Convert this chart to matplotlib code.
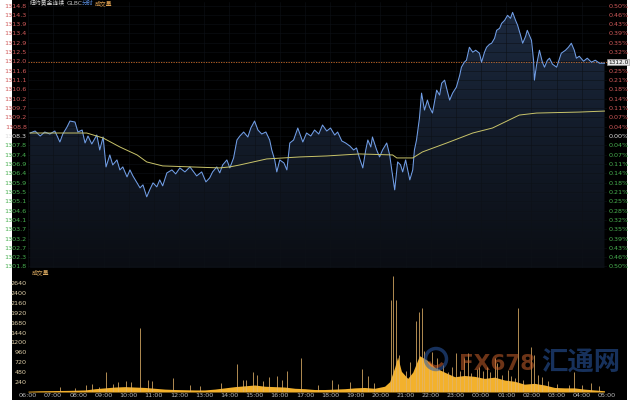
import numpy as np
import matplotlib
matplotlib.use("Agg")
import matplotlib.pyplot as plt
from matplotlib.colors import LinearSegmentedColormap
from matplotlib.patches import Rectangle, Circle, Wedge

CJK = ["Noto Sans CJK SC", "DejaVu Sans"]

# ---- data ----
hour_labels = ["06:00", "07:00", "08:00", "09:00", "10:00", "11:00", "12:00", "13:00",
               "14:00", "15:00", "16:00", "17:00", "18:00", "19:00", "20:00", "21:00",
               "22:00", "23:00", "00:00", "01:00", "02:00", "03:00", "04:00", "05:00"]

price_times = ["06:05", "06:17", "06:29", "06:40", "06:52", "07:04", "07:16", "07:23", "07:33", "07:40",
               "07:52", "07:59", "08:09", "08:16", "08:23", "08:32", "08:44", "08:51", "08:59", "09:06",
               "09:15", "09:22", "09:32", "09:39", "09:46", "09:56", "10:03", "10:10", "10:20", "10:27",
               "10:34", "10:43", "10:50", "10:58", "11:07", "11:14", "11:21", "11:31", "11:43", "11:52",
               "12:02", "12:14", "12:26", "12:33", "12:42", "12:54", "13:04", "13:13", "13:20", "13:30",
               "13:37", "13:44", "13:54", "14:01", "14:10", "14:18", "14:25", "14:34", "14:44", "14:51",
               "15:00", "15:08", "15:17", "15:27", "15:36", "15:41", "15:48", "15:53", "16:00", "16:10",
               "16:17", "16:24", "16:33", "16:43", "16:55", "17:04", "17:14", "17:23", "17:33", "17:42",
               "17:52", "18:01", "18:11", "18:18", "18:28", "18:37", "18:47", "18:56", "19:03", "19:10",
               "19:18", "19:25", "19:30", "19:37", "19:41", "19:51", "19:58", "20:05", "20:15", "20:22",
               "20:27", "20:34", "20:41", "20:48", "20:53", "21:00", "21:10", "21:17", "21:21", "21:26",
               "21:33", "21:38", "21:45", "21:52", "21:57", "22:04", "22:14", "22:21", "22:26", "22:33",
               "22:40", "22:45", "22:52", "23:01", "23:09", "23:13", "23:20", "23:25", "23:32", "23:40",
               "23:47", "23:56", "00:01", "00:08", "00:13", "00:20", "00:25", "00:32", "00:37", "00:44",
               "00:49", "00:56", "01:03", "01:10", "01:15", "01:22", "01:27", "01:34", "01:39", "01:46",
               "01:50", "01:55", "02:00", "02:05", "02:07", "02:12", "02:19", "02:26", "02:31", "02:38",
               "02:43", "02:50", "03:00", "03:07", "03:11", "03:21", "03:28", "03:35", "03:42", "03:47",
               "03:54", "04:04", "04:13", "04:23", "04:32", "04:42", "04:54"]
price_values = [1308.45, 1308.55, 1308.30, 1308.50, 1308.40, 1308.55, 1308.00, 1308.40, 1308.75, 1309.05,
                1309.00, 1308.50, 1308.60, 1307.95, 1308.30, 1307.90, 1308.35, 1307.60, 1308.25, 1306.75,
                1307.35, 1306.85, 1307.10, 1306.60, 1306.75, 1306.25, 1306.60, 1306.30, 1305.95, 1305.70,
                1305.85, 1305.25, 1305.60, 1305.95, 1305.75, 1306.10, 1305.80, 1306.45, 1306.60, 1306.40,
                1306.70, 1306.50, 1306.75, 1306.55, 1306.30, 1306.50, 1306.00, 1306.20, 1306.50, 1306.75,
                1306.45, 1306.85, 1307.10, 1306.70, 1307.20, 1308.10, 1308.30, 1308.50, 1308.25, 1308.70,
                1309.05, 1308.60, 1308.40, 1308.50, 1308.10, 1307.60, 1307.10, 1306.50, 1307.10, 1306.95,
                1306.60, 1307.95, 1308.10, 1308.70, 1308.00, 1308.45, 1308.30, 1308.60, 1308.40, 1308.85,
                1308.55, 1308.70, 1308.35, 1308.50, 1308.05, 1307.95, 1307.80, 1307.60, 1307.70, 1307.20,
                1306.70, 1307.60, 1308.10, 1307.75, 1308.25, 1307.60, 1307.25, 1307.60, 1307.95, 1307.35,
                1306.60, 1305.60, 1307.00, 1306.85, 1306.50, 1307.10, 1306.10, 1306.60, 1307.60, 1308.10,
                1309.20, 1310.45, 1309.60, 1310.10, 1309.75, 1309.45, 1310.60, 1310.35, 1310.95, 1311.10,
                1310.50, 1310.10, 1310.45, 1310.75, 1311.35, 1311.75, 1312.00, 1312.10, 1312.75, 1312.50,
                1312.60, 1312.45, 1312.00, 1312.50, 1312.75, 1312.90, 1312.95, 1313.20, 1313.60, 1313.70,
                1313.95, 1314.10, 1314.35, 1314.20, 1314.50, 1314.10, 1313.85, 1313.35, 1312.95, 1313.30,
                1313.60, 1313.35, 1313.10, 1312.10, 1311.10, 1311.85, 1312.60, 1312.00, 1311.75, 1312.10,
                1312.20, 1311.90, 1311.75, 1312.20, 1312.45, 1312.60, 1312.75, 1312.95, 1312.60, 1312.20,
                1312.30, 1312.05, 1312.20, 1312.00, 1312.10, 1311.95, 1311.95]

avg_times = ["06:05", "07:23", "08:20", "08:59", "09:39", "10:20", "10:43", "11:21", "13:37", "14:01",
             "14:25", "15:29", "16:48", "17:52", "19:10", "20:29", "20:39", "21:17", "21:40", "22:38",
             "23:40", "00:27", "01:31", "02:12", "03:54", "04:54"]
avg_values = [1308.45, 1308.45, 1308.45, 1308.20, 1307.75, 1307.35, 1307.00, 1306.80, 1306.70, 1306.75,
              1306.85, 1307.15, 1307.25, 1307.30, 1307.40, 1307.35, 1307.20, 1307.20, 1307.50, 1307.95,
              1308.45, 1308.70, 1309.35, 1309.45, 1309.50, 1309.55]

last_price = 1312.0
base_price = 1308.3

price_labels = ["1314.8", "1314.3", "1313.9", "1313.4", "1312.9", "1312.5", "1312.0", "1311.6",
                "1311.1", "1310.6", "1310.2", "1309.7", "1309.2", "1308.8", "1308.3", "1307.8",
                "1307.4", "1306.9", "1306.4", "1305.9", "1305.5", "1305.1", "1304.6", "1304.1",
                "1303.7", "1303.2", "1302.7", "1302.3", "1301.8"]
pct_labels = ["0.50%", "0.46%", "0.43%", "0.39%", "0.35%", "0.32%", "0.28%", "0.25%", "0.21%",
              "0.18%", "0.14%", "0.11%", "0.07%", "0.04%", "0.00%", "0.04%", "0.07%", "0.11%",
              "0.14%", "0.18%", "0.21%", "0.25%", "0.28%", "0.32%", "0.35%", "0.39%", "0.43%",
              "0.46%", "0.50%"]

vol_env_times = ["06:00", "06:29", "07:04", "07:40", "08:16", "08:40", "09:03", "09:27", "09:51", "10:15",
                 "10:39", "11:02", "11:26", "11:50", "12:14", "12:38", "13:01", "13:25", "13:49", "14:13",
                 "14:37", "15:00", "15:24", "15:48", "16:12", "16:36", "17:00", "17:23", "17:47", "18:11",
                 "18:35", "18:59", "19:22", "19:46", "20:10", "20:22", "20:34", "20:41", "20:50", "21:05",
                 "21:17", "21:33", "21:50", "22:09", "22:33", "22:57", "23:20", "23:44", "00:08", "00:32",
                 "00:56", "01:20", "01:43", "02:07", "02:31", "02:55", "03:19", "03:42", "04:06", "04:30",
                 "04:54"]
vol_env_values = [20, 30, 35, 40, 50, 80, 100, 120, 130, 120,
                  110, 90, 70, 60, 55, 50, 50, 70, 100, 130,
                  150, 170, 140, 130, 120, 90, 80, 60, 60, 70,
                  80, 100, 110, 90, 140, 250, 600, 850, 500, 330,
                  480, 880, 780, 600, 480, 370, 400, 380, 330, 360,
                  290, 260, 190, 210, 170, 110, 100, 100, 70, 50,
                  30]

spike_times = ["07:16", "07:52", "08:18", "08:32", "08:49", "09:06", "09:22", "09:34", "09:53", "10:05",
               "10:27", "10:46", "10:55", "11:45", "12:26", "14:18", "14:32", "14:56", "15:05", "15:34",
               "15:53", "16:17", "16:50", "18:04", "18:47", "19:15", "19:30", "20:24", "20:31", "20:36",
               "21:10", "21:24", "21:31", "21:38", "22:02", "22:14", "22:30", "23:01", "23:20", "23:28",
               "23:56", "00:13", "00:32", "00:39", "01:03", "01:29", "02:00", "02:07", "02:26", "03:42",
               "04:23",
               "20:45", "21:00", "21:45", "21:55", "22:20", "22:40", "22:50", "23:10", "23:35", "23:50",
               "00:05", "00:20", "00:50", "01:10", "01:20", "01:40", "02:15", "02:40", "03:00", "03:30",
               "04:00", "04:40", "12:50", "13:40", "14:40", "15:20", "16:05", "17:30", "18:20", "19:45"]
spike_values = [110, 90, 160, 200, 130, 485, 200, 250, 260, 240,
                1550, 290, 260, 340, 170, 680, 290, 485, 410, 365,
                390, 510, 825, 290, 240, 560, 390, 2230, 2810, 2230,
                730, 1720, 1930, 2040, 970, 825, 650, 945, 825, 945,
                605, 605, 825, 700, 530, 2040, 1090, 900, 360, 485,
                220,
                900, 500, 1000, 700, 560, 480, 600, 500, 450, 560,
                500, 480, 420, 380, 350, 300, 400, 260, 200, 180,
                160, 140, 150, 220, 300, 260, 280, 180, 200, 230]

vol_ticks = [240, 480, 720, 960, 1200, 1440, 1680, 1920, 2160, 2400, 2640]


def to_min(s):
    h, m = map(int, s.split(":"))
    return ((h - 6) % 24) * 60 + m


pt = np.array([to_min(s) for s in price_times])
pv = np.array(price_values)
at = np.array([to_min(s) for s in avg_times])
av = np.array(avg_values)
vt = np.array([to_min(s) for s in vol_env_times])
vv = np.array(vol_env_values)
st = np.array([to_min(s) for s in spike_times])
sv = np.array(spike_values)
hour_pos = np.arange(len(hour_labels)) * 60

# ---- figure ----
W, H = 640, 400
fig = plt.figure(figsize=(6.4, 4), dpi=100, facecolor="white")
fig.patches.append(Rectangle((12 / W, 0), (627 - 12) / W, 1, transform=fig.transFigure,
                             facecolor="black", edgecolor="none", zorder=-10))

x0, x1 = 28, 607
step = base_price * 0.005 / 14
tick_prices = base_price + step * np.arange(14, -15, -1)
px_per_unit = 9.32 / step
ymax = base_price + (136 - 2) / px_per_unit
ymin = base_price - (268 - 136) / px_per_unit

ax = fig.add_axes([x0 / W, 1 - 268 / H, (x1 - x0) / W, 266 / H])
ax.set_facecolor("black")
ax.set_xlim(0, 1380)
ax.set_ylim(ymin, ymax)
for s in ax.spines.values():
    s.set_visible(False)

# gradient fill under price
poly = ax.fill_between(pt, pv, ymin, color="none", lw=0)
cmap = LinearSegmentedColormap.from_list("fill", ["#0a0d13", "#1c2a40"])
grad = np.linspace(0, 1, 256).reshape(-1, 1)
im = ax.imshow(grad, extent=[0, 1380, ymin, ymax], origin="lower", cmap=cmap,
               aspect="auto", zorder=1, interpolation="bilinear")
im.set_clip_path(poly.get_paths()[0], transform=ax.transData)

ax.plot(pt, pv, color="#719ee6", lw=0.75, zorder=3)
ax.plot(at, av, color="#c9c46a", lw=0.7, zorder=3)
ax.axhline(last_price, color="#d0702c", lw=0.6, ls=(0, (1.5, 1.5)), zorder=2)

ax.set_xticks(hour_pos)
ax.set_yticks(tick_prices)
ax.grid(True, color="#0d1117", lw=0.4, zorder=0.5)
ax.tick_params(length=0, labelbottom=False, labelleft=True, pad=1)
ax.set_yticklabels(price_labels, fontsize=4.6)
for i, lab in enumerate(ax.get_yticklabels()):
    lab.set_color("#d05a5a" if i < 14 else ("#dddddd" if i == 14 else "#48b050"))

axr = ax.twinx()
axr.set_ylim(ymin, ymax)
axr.set_yticks(tick_prices)
axr.set_yticklabels(pct_labels, fontsize=4.6)
axr.tick_params(length=0, pad=1)
for s in axr.spines.values():
    s.set_visible(False)
for i, lab in enumerate(axr.get_yticklabels()):
    lab.set_color("#d05a5a" if i < 14 else ("#dddddd" if i == 14 else "#48b050"))
axr.text(1.002, last_price, "%.1f" % last_price, transform=axr.get_yaxis_transform(),
         fontsize=4.2, color="#111111", va="center", ha="left",
         bbox=dict(boxstyle="square,pad=0.12", facecolor="#e6e6e6", edgecolor="#999999", lw=0.4))

# header text
fig.text(30 / W, 1 - 3.5 / H, "纽约黄金连续", family=CJK, fontsize=4.2, color="#d8d8d8", va="center")
fig.text(67 / W, 1 - 3.5 / H, "GLBC", fontsize=4.2, color="#bbbbbb", va="center")
fig.text(82 / W, 1 - 3.5 / H, "分时", family=CJK, fontsize=4.2, color="#5a8ee0", va="center")
fig.text(95 / W, 1 - 3.5 / H, "成交量", family=CJK, fontsize=4.2, color="#e0a050", va="center")

# ---- volume panel ----
vax = fig.add_axes([x0 / W, 1 - 392 / H, (x1 - x0) / W, 120 / H])
vax.set_facecolor("none")
vax.set_xlim(0, 1380)
vax.set_ylim(0, (392 - 272) * 24.24)
for s in vax.spines.values():
    s.set_visible(False)
vax.fill_between(vt, vv, 0, color="#f3b12c", lw=0, zorder=2)
vax.vlines(st, 0, sv, color="#e4b46a", lw=0.6, alpha=0.9, zorder=2)
vax.set_xticks(hour_pos)
vax.set_xticklabels(hour_labels, fontsize=4.6, color="#b8b8b8")
vax.set_yticks(vol_ticks)
vax.set_yticklabels([str(v) for v in vol_ticks], fontsize=4.6, color="#dccca6")
vax.tick_params(length=0, pad=1)
fig.text(32 / W, 1 - 272 / H, "成交量", family=CJK, fontsize=4.2, color="#d8a860", va="center")

# watermark
fig.patches.append(Circle((4.36, 0.41), 0.105, transform=fig.dpi_scale_trans, fill=False,
                          edgecolor="#2a5aa8", lw=2.5, alpha=0.55, zorder=5))
fig.patches.append(Wedge((4.36, 0.41), 0.09, 200, 330, width=0.03, transform=fig.dpi_scale_trans,
                         facecolor="#d0602a", edgecolor="none", alpha=0.55, zorder=5))
fig.text(459 / W, 1 - 364 / H, "FX678", fontsize=15.5, fontweight="bold", color="#c8602a",
         alpha=0.55, va="center", ha="left", zorder=5)
fig.text(541 / W, 1 - 363 / H, "汇通网", family=CJK, fontsize=19, fontweight="bold",
         color="#2a5aa8", alpha=0.55, va="center", ha="left", zorder=5)

fig.savefig("out.png", dpi=100, facecolor=fig.get_facecolor())
